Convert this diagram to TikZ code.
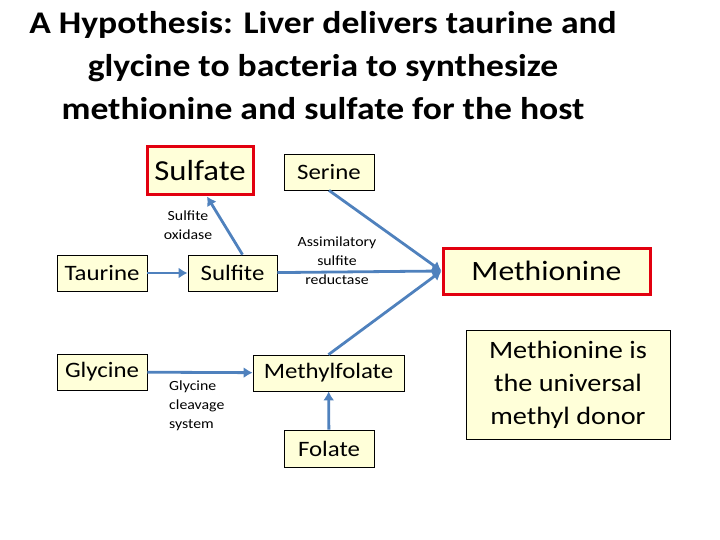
\documentclass[tikz,border=0pt]{standalone}
\usepackage{fontspec}
\setmainfont{Carlito}[FakeStretch=1.13]
\usepackage{tikz}
\usetikzlibrary{positioning,arrows.meta}
\usepackage{xcolor}
\definecolor{boxfill}{HTML}{FFFFD9}
\definecolor{flow}{HTML}{4F81BD}
\definecolor{hilite}{HTML}{E2000F}

\begin{document}
\begin{tikzpicture}[x=1pt,y=-1pt,
  box/.style={draw=black,fill=boxfill,line width=0.8pt,inner sep=0pt,font=\fontsize{22}{26}\selectfont},
  hibox/.style={box,draw=hilite,line width=3pt,font=\fontsize{28}{32}\selectfont},
  enzyme/.style={align=center,inner sep=0pt,font=\fontsize{14}{19}\selectfont},
  flowarrow/.style={draw=flow,line width=2.8pt,-{Latex[length=9pt,width=11pt]}}]
\useasboundingbox (0,0) rectangle (720,540);
% title
\node[align=center,font=\fontsize{31.5}{43}\selectfont\bfseries] (title) at (323,66)
  {A Hypothesis: Liver delivers taurine and\\glycine to bacteria to synthesize\\methionine and sulfate for the host};
% compounds
\node[hibox,minimum width=106,minimum height=48,font=\fontsize{29}{32}\selectfont] (sulfate) at (200,171) {Sulfate};
\node[box,minimum width=90,minimum height=36] (serine) at (329,172) {Serine};
\node[box,minimum width=90,minimum height=36] (taurine) at (102,273) {Taurine};
\node[box,minimum width=89,minimum height=36] (sulfite) at (232.5,273) {Sulfite};
\node[hibox,minimum width=207,minimum height=46] (methionine) at (546.5,271) {Methionine};
\node[box,minimum width=90,minimum height=36] (glycine) at (102,372) {Glycine};
\node[box,minimum width=151,minimum height=36] (methylfolate) at (328.5,373) {Methylfolate};
\node[box,minimum width=90,minimum height=37] (folate) at (329,448.5) {Folate};
\node[box,align=center,minimum width=204,minimum height=109,font=\fontsize{25}{33}\selectfont] (donor) at (568,384.5)
  {Methionine is\\the universal\\methyl donor};
% enzymes
\node[enzyme] (oxidase) at (188,225) {Sulfite\\oxidase};
\node[enzyme] (reductase) at (337,261) {Assimilatory\\sulfite\\reductase};
\node[enzyme,align=left,anchor=west] (cleavage) at (169,406) {Glycine\\cleavage\\system};
% arrows
\draw[flowarrow] (taurine) -- (sulfite);
\draw[flowarrow] ([xshift=10pt]sulfite.north) -- ([xshift=7pt]sulfate.south);
\draw[flowarrow] (sulfite) -- (methionine.west);
\draw[flowarrow] (serine.south) -- (methionine.west);
\draw[flowarrow] (methylfolate.north) -- (methionine.west);
\draw[flowarrow] (glycine) -- (methylfolate);
\draw[flowarrow] (folate) -- (methylfolate);
\end{tikzpicture}
\end{document}
